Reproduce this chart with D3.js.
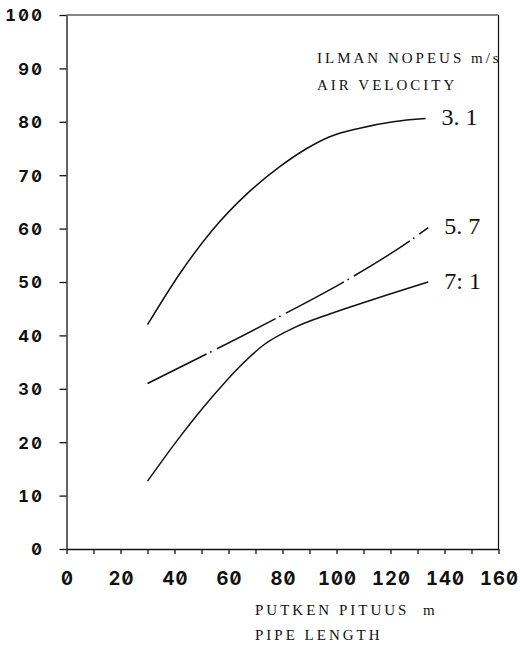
<!DOCTYPE html>
<html>
<head>
<meta charset="utf-8">
<script src="https://cdn.jsdelivr.net/npm/d3@7"></script>
<style>
  html, body { margin: 0; padding: 0; background: #fff; }
  svg { display: block; }
  .axis .domain, .axis line { stroke: #111; stroke-width: 1.3; }
  .axis .tick text {
    font-family: "Inter Variable", "Inter", "Inter Display", "DejaVu Sans Mono", monospace;
    font-weight: 700;
    font-feature-settings: "zero" 1, "tnum" 1;
    font-variant-numeric: slashed-zero tabular-nums;
    fill: #111;
  }
  .ytick .tick text { font-size: 16.5px; letter-spacing: 2.4px; }
  .xtick .tick text { font-size: 18.5px; letter-spacing: 1px; }
  .type { font-family: "Liberation Serif", serif; font-size: 15px; letter-spacing: 3px; fill: #111; white-space: pre; }
  .val { font-family: "Liberation Serif", serif; font-size: 24px; fill: #111; white-space: pre; }
</style>
</head>
<body>
<svg id="chart" width="520" height="649"></svg>
<script>
// Pipe length axis (m) and vertical axis ticks
const lengthTicks = d3.range(0, 161, 10);
const lengthLabels = [0, 20, 40, 60, 80, 100, 120, 140, 160];
const valueTicks = [0, 10, 20, 30, 40, 50, 60, 70, 80, 90, 100];

// Air velocities (m/s) and the labels printed at the end of each curve
const velocities = ["3.1", "5.7", "7.1"];
const velocityLabels = ["3. 1", "5. 7", "7: 1"];

// Curve for 3.1 m/s
const length31 = [30, 42, 54, 67, 79, 89, 97.5, 108.6, 121, 133];
const value31  = [42, 51.6, 59.7, 66.6, 71.6, 75, 77.2, 78.8, 80, 80.6];
// Curve for 5.7 m/s (dash-dot)
const length57 = [30, 53, 78, 104, 128, 134];
const value57  = [31, 36.8, 43.3, 50.4, 58, 60.2];
// Curve for 7.1 m/s
const length71 = [30, 42, 54, 64, 73, 85, 98, 111, 134];
const value71  = [12.7, 21, 28.5, 34.1, 38.2, 41.6, 44.1, 46.3, 50];

const legendLines = ["ILMAN NOPEUS m/s", "AIR VELOCITY"];
const xTitleLines = ["PUTKEN PITUUS  m", "PIPE LENGTH"];

const svg = d3.select("#chart");

const x = d3.scaleLinear().domain([0, 160]).range([66.5, 498.5]);
const y = d3.scaleLinear().domain([0, 100]).range([549, 15]);

// Frame: top and right edges
svg.append("line")
  .attr("x1", x(0)).attr("x2", x(160))
  .attr("y1", y(100)).attr("y2", y(100))
  .attr("stroke", "#111").attr("stroke-width", 1.2);
svg.append("line")
  .attr("x1", x(160)).attr("x2", x(160))
  .attr("y1", y(100)).attr("y2", y(0))
  .attr("stroke", "#111").attr("stroke-width", 1.2);

// Vertical axis
const gy = svg.append("g")
  .attr("class", "axis ytick")
  .attr("transform", `translate(${x(0)},0)`)
  .call(d3.axisLeft(y).tickValues(valueTicks).tickSize(7).tickSizeOuter(0).tickFormat(d3.format("d")));
gy.selectAll(".tick text")
  .attr("x", -(x(0) - 42) + 2.4)
  .attr("dy", "0.36em");

// Horizontal axis
const gx = svg.append("g")
  .attr("class", "axis xtick")
  .attr("transform", `translate(0,${y(0)})`)
  .call(d3.axisBottom(x).tickValues(lengthTicks).tickSize(5).tickSizeOuter(0)
    .tickFormat(d => lengthLabels.includes(d) ? d3.format("d")(d) : ""));
gx.selectAll(".tick text")
  .attr("y", 35.5)
  .attr("dy", null)
  .attr("dx", "0.5px");

// Curves
const series = [
  { name: velocities[0], label: velocityLabels[0], xs: length31, ys: value31, dash: null },
  { name: velocities[1], label: velocityLabels[1], xs: length57, ys: value57, dash: "66,4,1.6,6" },
  { name: velocities[2], label: velocityLabels[2], xs: length71, ys: value71, dash: null }
];

const line = d3.line()
  .x(d => x(d[0]))
  .y(d => y(d[1]))
  .curve(d3.curveMonotoneX);

series.forEach(s => {
  const pts = s.xs.map((v, i) => [v, s.ys[i]]);
  svg.append("path")
    .attr("d", line(pts))
    .attr("fill", "none")
    .attr("stroke", "#111")
    .attr("stroke-width", 1.5)
    .attr("stroke-dasharray", s.dash);
  const last = pts[pts.length - 1];
  svg.append("text")
    .attr("class", "val")
    .attr("x", x(last[0]) + 16)
    .attr("y", y(last[1]) + 6.7)
    .text(s.label);
});

// Legend title
svg.append("text")
  .attr("class", "type")
  .selectAll("tspan")
  .data(legendLines)
  .join("tspan")
  .attr("x", 317)
  .attr("y", (d, i) => 63 + i * 26.5)
  .text(d => d);

// Horizontal axis title
svg.append("text")
  .attr("class", "type")
  .selectAll("tspan")
  .data(xTitleLines)
  .join("tspan")
  .attr("x", 255)
  .attr("y", (d, i) => 615 + i * 25)
  .text(d => d);
</script>
</body>
</html>
